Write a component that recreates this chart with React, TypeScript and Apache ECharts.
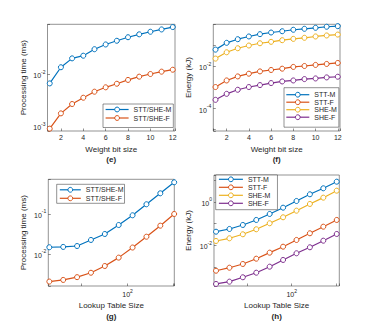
import React, { useEffect, useRef } from 'react';
import * as echarts from 'echarts';

const weightBits = [1, 2, 3, 4, 5, 6, 7, 8, 9, 10, 11, 12];
const lutSizes = [2, 4, 8, 16, 32, 64, 128, 256, 512, 1024];

// (e) processing time vs weight bit size
const eSTTSHEM = [0.0066, 0.0135, 0.02, 0.0225, 0.03, 0.037, 0.0436, 0.051, 0.058, 0.065, 0.072, 0.08];
const eSTTSHEF = [0.00089, 0.00175, 0.00265, 0.0035, 0.00457, 0.00555, 0.0065, 0.0077, 0.0089, 0.01, 0.0111, 0.0121];

// (f) energy vs weight bit size
const fSTTM = [0.062, 0.13, 0.193, 0.26, 0.334, 0.4, 0.46, 0.54, 0.6, 0.67, 0.75, 0.8];
const fSTTF = [0.00105, 0.00215, 0.00334, 0.00449, 0.00578, 0.00674, 0.00777, 0.0094, 0.0104, 0.0117, 0.013, 0.0145];
const fSHEM = [0.0233, 0.0464, 0.072, 0.097, 0.124, 0.145, 0.173, 0.2, 0.225, 0.26, 0.29, 0.32];
const fSHEF = [0.00026, 0.0005, 0.00078, 0.00105, 0.0013, 0.00162, 0.00193, 0.00215, 0.0025, 0.00268, 0.003, 0.00323];

// (g) processing time vs lookup table size
const gSTTSHEM = [0.0147, 0.015, 0.0158, 0.0224, 0.0316, 0.053, 0.0928, 0.175, 0.329, 0.62];
const gSTTSHEF = [0.00204, 0.00224, 0.00263, 0.00339, 0.005, 0.0081, 0.0145, 0.027, 0.051, 0.1];

// (h) energy vs lookup table size
const hSTTM = [0.043, 0.0574, 0.0877, 0.149, 0.281, 0.547, 1.11, 2.26, 4.26, 8.58];
const hSTTF = [0.00069, 0.00095, 0.00141, 0.00247, 0.00467, 0.0088, 0.0179, 0.0364, 0.0731, 0.149];
const hSHEM = [0.0161, 0.0214, 0.0327, 0.0556, 0.105, 0.198, 0.398, 0.81, 1.58, 3.31];
const hSHEF = [0.00017, 0.000217, 0.000345, 0.00056, 0.00106, 0.00216, 0.00438, 0.00826, 0.0166, 0.0338];

const legendE = ['STT/SHE-M', 'STT/SHE-F'];
const legendF = ['STT-M', 'STT-F', 'SHE-M', 'SHE-F'];

// labelled decades
const eYExps = [-3, -2];
const fYExps = [-4, -2];
const gYExps = [-2, -1];
const hYExps = [-2, 0];
const lutXExps = [2];

const BLUE = '#0072BD';
const ORANGE = '#D95319';
const YELLOW = '#EDB120';
const PURPLE = '#7E2F8E';
const TXT = '#262626';
const FONT = 'Liberation Sans, Arial, Helvetica, sans-serif';

const pow10Label = (allowed: number[]) => (v: number) => {
  if (!(v > 0)) return '';
  const l = Math.log10(v);
  const e = Math.round(l);
  if (Math.abs(l - e) > 1e-4) return '';
  if (allowed.indexOf(e) < 0) return '';
  return `{b|10}{s|${e}}`;
};

const rich = {
  b: { fontSize: 7, lineHeight: 10, verticalAlign: 'bottom', color: TXT, fontFamily: FONT },
  s: { fontSize: 5, lineHeight: 5, verticalAlign: 'top', color: TXT, fontFamily: FONT },
};

const tick = { show: true, inside: true, length: 2.5, lineStyle: { color: TXT, width: 0.5 } };
const nameStyle = { color: TXT, fontSize: 8, fontFamily: FONT };

const linX = (gridIndex: number) => ({
  type: 'value',
  gridIndex,
  min: 0.8,
  max: 12.2,
  splitNumber: 5,
  axisLine: { show: false },
  axisTick: tick,
  splitLine: { show: false },
  axisLabel: {
    color: TXT,
    fontSize: 7,
    fontFamily: FONT,
    margin: 3,
    formatter: (v: number) =>
      Math.abs(v - Math.round(v)) < 1e-6 && Math.round(v) % 2 === 0 ? String(Math.round(v)) : '',
  },
  name: 'Weight bit size',
  nameLocation: 'middle',
  nameGap: 14.3,
  nameTextStyle: nameStyle,
});

const logX = (gridIndex: number, min: number, max: number) => ({
  type: 'log',
  logBase: 10,
  gridIndex,
  min,
  max,
  axisLine: { show: false },
  axisTick: tick,
  minorTick: { show: false },
  splitLine: { show: false },
  axisLabel: { margin: 2.3, formatter: pow10Label(lutXExps), rich },
  name: 'Lookup Table Size',
  nameLocation: 'middle',
  nameGap: 15.7,
  nameTextStyle: nameStyle,
});

const logY = (gridIndex: number, min: number, max: number, name: string, nameGap: number, exps: number[]) => ({
  type: 'log',
  logBase: 10,
  gridIndex,
  min,
  max,
  axisLine: { show: false },
  axisTick: tick,
  minorTick: { show: false },
  splitLine: { show: false },
  axisLabel: { margin: 2, formatter: pow10Label(exps), rich },
  name,
  nameLocation: 'middle',
  nameGap,
  nameTextStyle: nameStyle,
});

const mk = (name: string, color: string, xi: number, xs: number[], ys: number[]) => ({
  name,
  type: 'line',
  xAxisIndex: xi,
  yAxisIndex: xi,
  data: xs.map((x, i) => [x, ys[i]]),
  symbol: 'circle',
  symbolSize: 5,
  lineStyle: { width: 1.2, color },
  itemStyle: { color: '#ffffff', borderColor: color, borderWidth: 1 },
});

const legendCommon = {
  orient: 'vertical',
  selectedMode: false,
  itemHeight: 6,
  textStyle: { color: TXT, fontSize: 7, fontFamily: FONT },
  itemStyle: { borderWidth: 1 },
  lineStyle: { width: 1.2 },
  borderColor: TXT,
  borderWidth: 0.5,
  backgroundColor: '#ffffff',
  borderRadius: 0,
};

const gridCommon = { show: true, borderColor: TXT, borderWidth: 0.5, backgroundColor: 'transparent' };

const caption = (text: string, x: number, y: number) => ({
  type: 'text',
  x,
  y,
  style: { text, fontSize: 8, fontWeight: 'bold', fontFamily: FONT, fill: TXT, align: 'center', verticalAlign: 'middle' },
});

const option = {
  animation: false,
  backgroundColor: '#ffffff',
  grid: [
    { ...gridCommon, left: 47.5, top: 24.3, width: 127.5, height: 106.7 },
    { ...gridCommon, left: 213.3, top: 24.3, width: 126.7, height: 106.7 },
    { ...gridCommon, left: 48.3, top: 179.3, width: 126, height: 106.7 },
    { ...gridCommon, left: 214, top: 175, width: 125.3, height: 111 },
  ],
  xAxis: [linX(0), linX(1), logX(2, 1.9, 1030), logX(3, 1.8, 1170)],
  yAxis: [
    logY(0, 0.000802, 0.0904, 'Processing time (ms)', 20, eYExps),
    logY(1, 8.7e-6, 0.98, 'Energy (kJ)', 20.8, fYExps),
    logY(2, 0.00158, 0.737, 'Processing time (ms)', 20.8, gYExps),
    logY(3, 1.37e-4, 17.4, 'Energy (kJ)', 21.5, hYExps),
  ],
  legend: [
    { ...legendCommon, data: legendE, left: 103, top: 104, itemWidth: 23, itemGap: 1.5, padding: [2, 2, 6, 2] },
    { ...legendCommon, data: legendF, left: 284, top: 87.7, itemWidth: 23, itemGap: 0.5, padding: [3.5, 2, 6.5, 1.7] },
    { ...legendCommon, data: legendE, left: 56.7, top: 184.3, itemWidth: 21, itemGap: 1.5, padding: [2, 1, 1.5, 2.5] },
    { ...legendCommon, data: legendF, left: 215.7, top: 175, itemWidth: 24, itemGap: 1, padding: [0.8, 7, 2.9, 2.6] },
  ],
  graphic: [
    caption('(e)', 111.2, 159.3),
    caption('(f)', 276.7, 159.3),
    caption('(g)', 111.3, 316),
    caption('(h)', 276.7, 316),
  ],
  series: [
    mk('STT/SHE-M', BLUE, 0, weightBits, eSTTSHEM),
    mk('STT/SHE-F', ORANGE, 0, weightBits, eSTTSHEF),
    mk('STT-M', BLUE, 1, weightBits, fSTTM),
    mk('STT-F', ORANGE, 1, weightBits, fSTTF),
    mk('SHE-M', YELLOW, 1, weightBits, fSHEM),
    mk('SHE-F', PURPLE, 1, weightBits, fSHEF),
    mk('STT/SHE-M', BLUE, 2, lutSizes, gSTTSHEM),
    mk('STT/SHE-F', ORANGE, 2, lutSizes, gSTTSHEF),
    mk('STT-M', BLUE, 3, lutSizes, hSTTM),
    mk('STT-F', ORANGE, 3, lutSizes, hSTTF),
    mk('SHE-M', YELLOW, 3, lutSizes, hSHEM),
    mk('SHE-F', PURPLE, 3, lutSizes, hSHEF),
  ],
};

export default function App() {
  const ref = useRef<HTMLDivElement>(null);
  useEffect(() => {
    document.body.style.margin = '0';
    const chart = echarts.init(ref.current as HTMLDivElement, null, { renderer: 'svg' });
    chart.setOption(option as any);
    return () => chart.dispose();
  }, []);
  return <div ref={ref} style={{ width: 375, height: 327 }} />;
}
